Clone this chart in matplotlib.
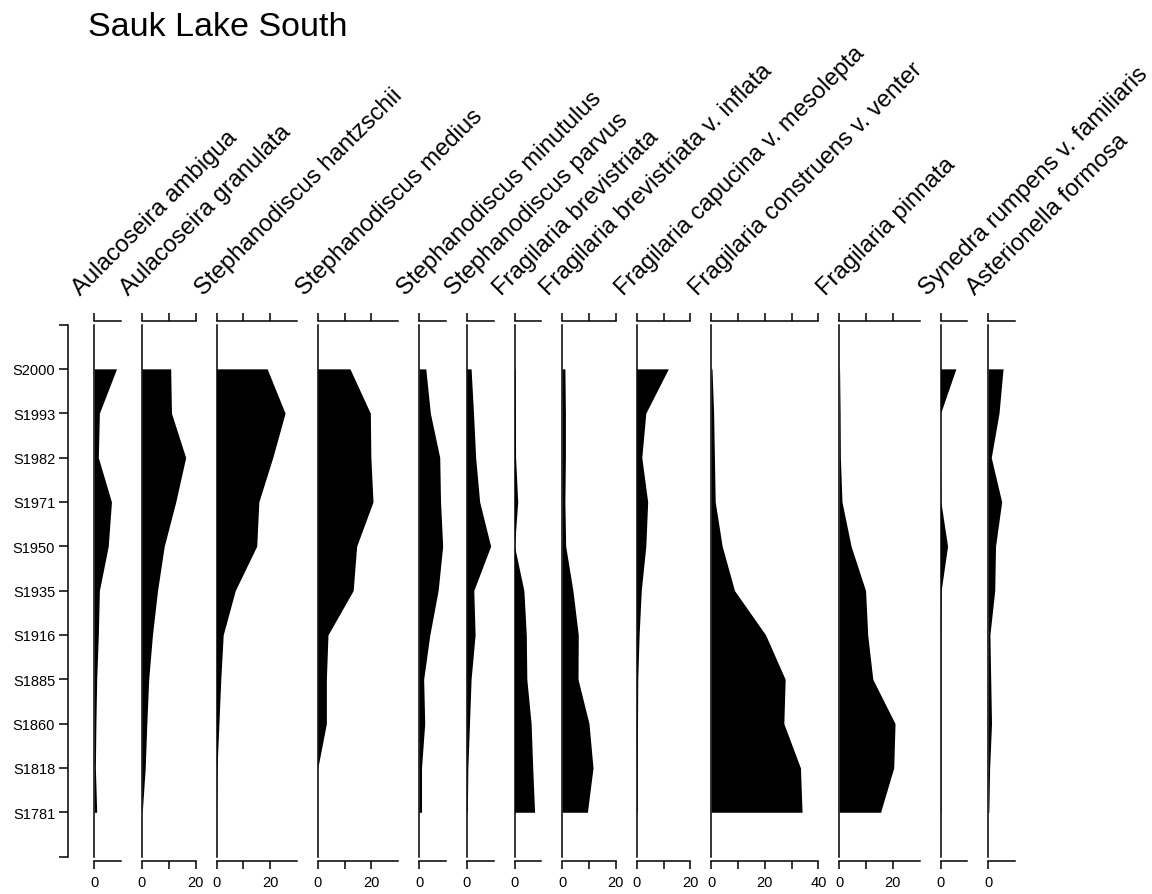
import matplotlib
matplotlib.use("Agg")
import matplotlib.pyplot as plt
from matplotlib.transforms import offset_copy

plt.rcParams['font.family'] = ['Liberation Sans', 'DejaVu Sans']

# Sample levels, top (most recent) to bottom
samples = ["S2000", "S1993", "S1982", "S1971", "S1950", "S1935",
           "S1916", "S1885", "S1860", "S1818", "S1781"]

taxa = ["Aulacoseira ambigua", "Aulacoseira granulata",
        "Stephanodiscus hantzschii", "Stephanodiscus medius",
        "Stephanodiscus minutulus", "Stephanodiscus parvus",
        "Fragilaria brevistriata", "Fragilaria brevistriata v. inflata",
        "Fragilaria capucina v. mesolepta", "Fragilaria construens v. venter",
        "Fragilaria pinnata", "Synedra rumpens v. familiaris",
        "Asterionella formosa"]

# Relative abundances (%) per taxon, one value per sample level
ambigua = [8.3, 1.9, 1.5, 6.4, 5.2, 1.9, 1.5, 0.9, 0.6, 0.4, 0.9]
granulata = [10.7, 11.0, 16.3, 12.6, 8.3, 5.8, 3.9, 2.5, 1.8, 1.2, 0.1]
hantzschii = [18.9, 25.6, 21.0, 15.8, 15.0, 7.0, 2.5, 1.6, 0.9, 0.2, 0.0]
medius = [12.0, 19.6, 19.8, 20.6, 14.5, 13.2, 3.8, 3.2, 3.2, 0.0, 0.0]
minutulus = [2.5, 4.2, 7.7, 8.0, 8.8, 7.1, 4.0, 1.7, 2.1, 0.9, 0.9]
parvus = [1.6, 2.5, 3.3, 4.8, 8.9, 2.6, 3.1, 1.6, 1.0, 0.4, 0.2]
brevistriata = [0.2, 0.3, 0.4, 1.2, 0.0, 3.5, 4.4, 4.6, 6.2, 6.8, 7.5]
inflata = [1.0, 1.2, 1.2, 1.0, 1.3, 4.0, 6.0, 5.9, 10.0, 11.5, 9.4]
mesolepta = [11.8, 3.4, 1.9, 4.1, 3.4, 1.7, 0.9, 0.4, 0.3, 0.2, 0.2]
venter = [0.3, 0.9, 1.2, 1.5, 4.1, 8.7, 20.3, 27.6, 27.1, 33.3, 33.9]
pinnata = [0.1, 0.3, 0.4, 1.0, 4.4, 9.8, 10.6, 12.5, 20.8, 20.3, 15.4]
rumpens = [5.7, 0.0, 0.0, 0.1, 2.6, 0.2, 0.1, 0.1, 0.1, 0.1, 0.1]
formosa = [5.5, 4.0, 1.1, 5.0, 2.7, 2.4, 0.6, 0.9, 1.2, 0.5, 0.2]

series = [ambigua, granulata, hantzschii, medius, minutulus, parvus,
          brevistriata, inflata, mesolepta, venter, pinnata, rumpens, formosa]

# Axis extent and tick positions for each panel
axis_max = [10, 20, 30, 30, 10, 10, 10, 20, 20, 40, 30, 10, 10]
axis_ticks = [[0], [0, 10, 20], [0, 10, 20], [0, 10, 20], [0], [0], [0],
              [0, 10, 20], [0, 10, 20], [0, 10, 20, 30, 40], [0, 10, 20],
              [0], [0]]

title = "Sauk Lake South"

W, H, DPI = 1152, 895, 100
fig = plt.figure(figsize=(W / DPI, H / DPI), dpi=DPI)

top_px, bot_px = 325.5, 857.6
ax_b = 1 - bot_px / H
ax_h = (bot_px - top_px) / H
px_per_unit = 2.68
gap_px = 20.9
x_px = 94.3
lw = 1.1
px2pt = 72.0 / DPI
ypos = list(range(len(samples)))
ylim = (len(samples), -1)

for name, vals, xm, ticks in zip(taxa, series, axis_max, axis_ticks):
    ax = fig.add_axes([x_px / W, ax_b, xm * px_per_unit / W, ax_h])
    ax.patch.set_visible(False)
    ax.fill_betweenx(ypos, 0, vals, color="black", lw=0)
    ax.set_xlim(0, xm)
    ax.set_ylim(*ylim)
    ax.spines["right"].set_visible(False)
    ax.spines["left"].set_linewidth(lw)
    for side in ("top", "bottom"):
        sp = ax.spines[side]
        sp.set_position(("outward", 4 * px2pt))
        sp.set_bounds(0, xm)
        sp.set_linewidth(lw)
    ax.set_yticks([])
    ax.set_xticks(ticks)
    ax.set_xticklabels([str(t) if t % 20 == 0 else "" for t in ticks])
    ax.tick_params(axis="x", top=True, bottom=True, labeltop=False,
                   labelbottom=True, direction="out", length=8 * px2pt,
                   width=lw, labelsize=10.5, pad=4.3)
    tr = offset_copy(ax.get_xaxis_transform(), fig=fig, x=-13.5, y=29,
                     units="dots")
    ax.text(0, 1, name, transform=tr, rotation=45, rotation_mode="anchor",
            ha="left", va="baseline", fontsize=17.2)
    x_px += xm * px_per_unit + gap_px

# Shared sample axis on the left
ax_y = fig.add_axes([68.3 / W, ax_b, 0.5 / W, ax_h])
ax_y.patch.set_visible(False)
ax_y.set_ylim(*ylim)
for side in ("right", "top", "bottom"):
    ax_y.spines[side].set_visible(False)
ax_y.spines["left"].set_linewidth(lw)
ax_y.set_xticks([])
ax_y.set_yticks(list(range(-1, len(samples) + 1)))
ax_y.set_yticklabels([""] + samples + [""])
ax_y.tick_params(axis="y", direction="out", length=9 * px2pt, width=lw,
                 labelsize=10.5, pad=3)

fig.text(88 / W, 1 - 36 / H, title, fontsize=24.5, ha="left", va="baseline")

fig.savefig("out.png", dpi=DPI)
